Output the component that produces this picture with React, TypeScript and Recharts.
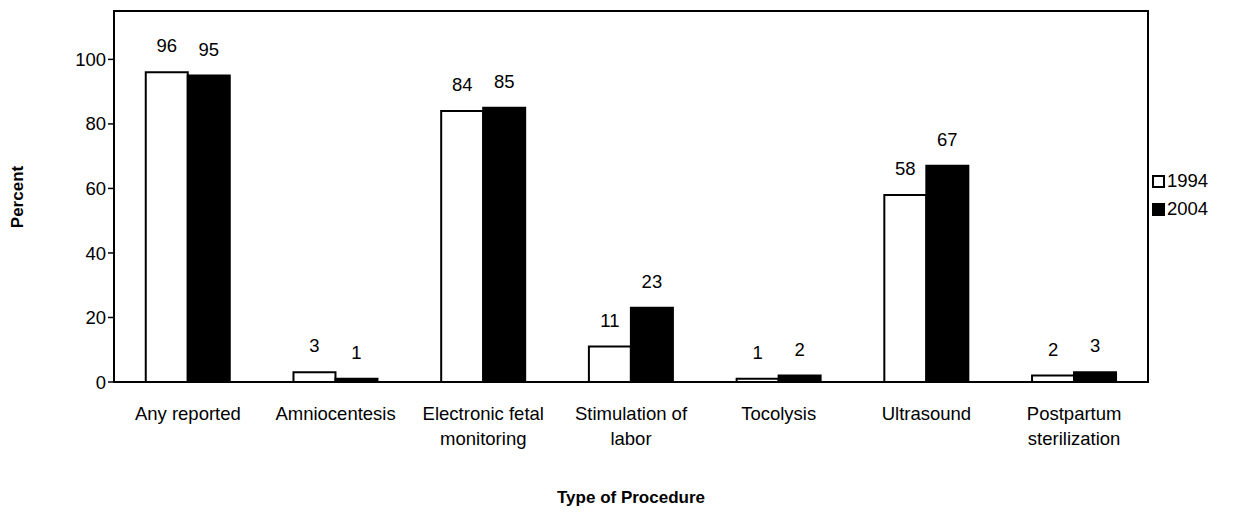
import { BarChart, Bar, XAxis, YAxis, LabelList, Text } from 'recharts'

const categories = [
  'Any reported',
  'Amniocentesis',
  'Electronic fetal monitoring',
  'Stimulation of labor',
  'Tocolysis',
  'Ultrasound',
  'Postpartum sterilization',
]
const values1994 = [96, 3, 84, 11, 1, 58, 2]
const values2004 = [95, 1, 85, 23, 2, 67, 3]
const yTicks = [0, 20, 40, 60, 80, 100]

const data = categories.map((name, i) => ({ name, y1994: values1994[i], y2004: values2004[i] }))

const font = '"Liberation Sans", Arial, sans-serif'

function CategoryTick(props: any) {
  const { x, y, payload } = props
  return (
    <Text
      x={x}
      y={y + 30}
      width={128}
      lineHeight={25}
      textAnchor="middle"
      verticalAnchor="middle"
      fontSize={18.5}
      fontFamily={font}
      fill="#000"
    >
      {payload.value}
    </Text>
  )
}

function LegendBox() {
  const items = [
    { label: '1994', fill: '#fff' },
    { label: '2004', fill: '#000' },
  ]
  return (
    <div style={{ position: 'absolute', left: 1152, top: 167, fontFamily: font, fontSize: 18.5, color: '#000' }}>
      {items.map((it) => (
        <div key={it.label} style={{ display: 'flex', alignItems: 'center', height: 28 }}>
          <span
            style={{
              display: 'inline-block',
              boxSizing: 'border-box',
              width: 13,
              height: 13,
              background: it.fill,
              border: '2px solid #000',
              marginRight: 2,
            }}
          />
          {it.label}
        </div>
      ))}
    </div>
  )
}

export default function App() {
  return (
    <div style={{ position: 'absolute', left: 0, top: 0, width: 1252, height: 516, background: '#fff' }}>
      <BarChart
        width={1252}
        height={516}
        data={data}
        margin={{ top: 11, right: 104, bottom: 0, left: 54 }}
        barCategoryGap="21.5%"
        barGap={0}
      >
        <XAxis
          dataKey="name"
          tickLine={false}
          axisLine={false}
          tick={<CategoryTick />}
          interval={0}
          height={134}
        />
        <YAxis
          domain={[0, 115]}
          ticks={yTicks}
          allowDataOverflow
          width={60}
          tickLine={{ stroke: '#000', strokeWidth: 1.5 }}
          tickSize={6}
          axisLine={false}
          tick={{ fontSize: 18.5, fontFamily: font, fill: '#000' }}
        />
        <Bar dataKey="y1994" fill="#fff" stroke="#000" strokeWidth={2} isAnimationActive={false}>
          <LabelList dataKey="y1994" position="top" offset={20} fontSize={18.5} fontFamily={font} fill="#000" />
        </Bar>
        <Bar dataKey="y2004" fill="#000" stroke="#000" strokeWidth={2} isAnimationActive={false}>
          <LabelList dataKey="y2004" position="top" offset={20} fontSize={18.5} fontFamily={font} fill="#000" />
        </Bar>
      </BarChart>
      <div
        style={{
          position: 'absolute',
          boxSizing: 'border-box',
          left: 113,
          top: 10,
          width: 1036,
          height: 373,
          border: '2.5px solid #000',
          pointerEvents: 'none',
        }}
      />
      <LegendBox />
      <div
        style={{
          position: 'absolute',
          left: 18,
          top: 197,
          transform: 'translate(-50%, -50%) rotate(-90deg)',
          fontFamily: font,
          fontWeight: 'bold',
          fontSize: 17,
          whiteSpace: 'nowrap',
        }}
      >
        Percent
      </div>
      <div
        style={{
          position: 'absolute',
          left: 631,
          top: 498,
          transform: 'translate(-50%, -50%)',
          fontFamily: font,
          fontWeight: 'bold',
          fontSize: 17,
          whiteSpace: 'nowrap',
        }}
      >
        Type of Procedure
      </div>
    </div>
  )
}
